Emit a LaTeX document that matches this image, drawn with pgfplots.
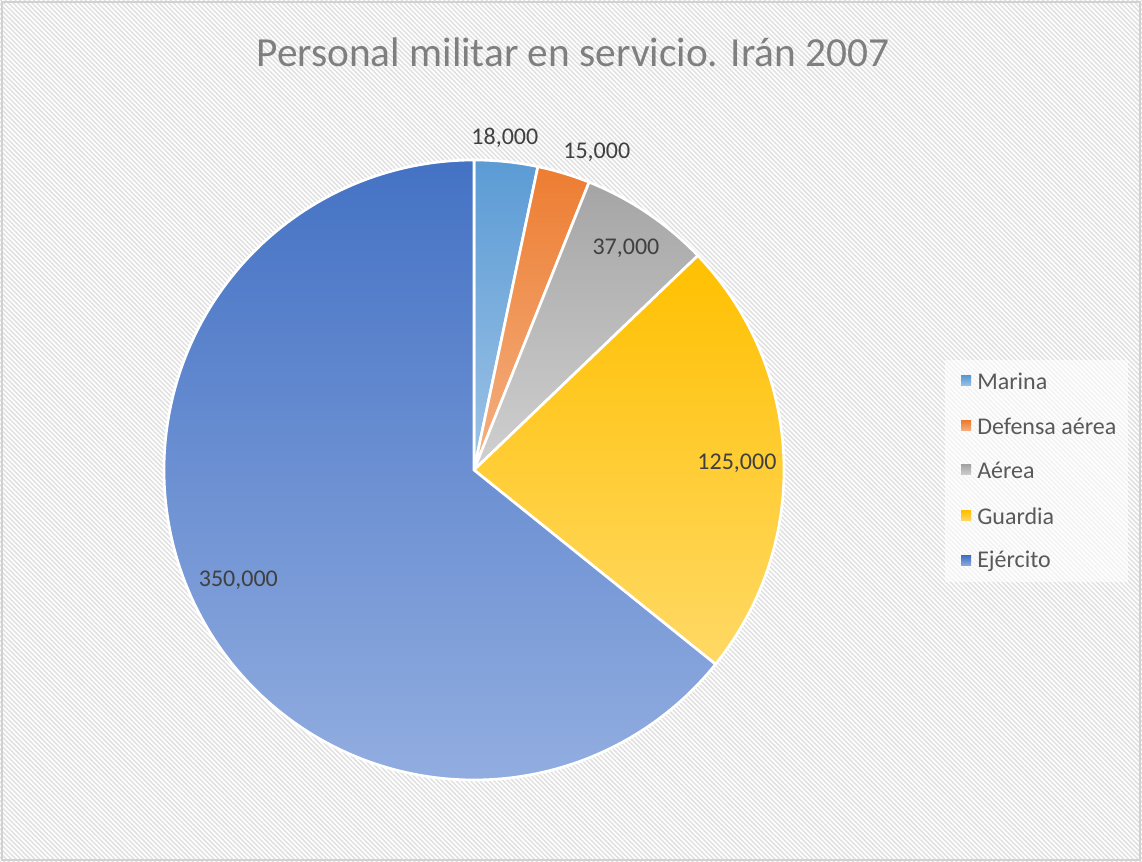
\documentclass[border=0pt]{standalone}
\usepackage{fontspec}
\setmainfont{Carlito}
\usepackage{pgfplots}
\usepackage{pgfplotstable}
\pgfplotsset{compat=1.18}
\usepgfplotslibrary{polar}
\usetikzlibrary{patterns.meta}

\definecolor{marinaT}{HTML}{5B9BD5}\definecolor{marinaB}{HTML}{9DC3E6}
\definecolor{defT}{HTML}{ED7D31}\definecolor{defB}{HTML}{F4B183}
\definecolor{aerT}{HTML}{A5A5A5}\definecolor{aerB}{HTML}{D0D0D0}
\definecolor{guaT}{HTML}{FFC000}\definecolor{guaB}{HTML}{FFD966}
\definecolor{ejeT}{HTML}{4472C4}\definecolor{ejeB}{HTML}{92ADE0}
\definecolor{titlegray}{HTML}{7F7F7F}
\definecolor{lblgray}{HTML}{404040}
\definecolor{leggray}{HTML}{595959}

\tikzset{lbl/.style={text=lblgray,font=\fontsize{18}{20}\selectfont}}

% personal militar en servicio, Iran 2007
\pgfplotstableread{
name value
Marina 18000
Defensa 15000
Aerea 37000
Guardia 125000
Ejercito 350000
}\datatable

\pgfplotstablegetelem{0}{value}\of\datatable\let\vA\pgfplotsretval
\pgfplotstablegetelem{1}{value}\of\datatable\let\vB\pgfplotsretval
\pgfplotstablegetelem{2}{value}\of\datatable\let\vC\pgfplotsretval
\pgfplotstablegetelem{3}{value}\of\datatable\let\vD\pgfplotsretval
\pgfplotstablegetelem{4}{value}\of\datatable\let\vE\pgfplotsretval

\pgfkeys{/pgf/fpu=true,/pgf/fpu/output format=fixed}
\pgfmathsetmacro\tot{\vA+\vB+\vC+\vD+\vE}
\pgfmathsetmacro\aO{90}
\pgfmathsetmacro\aA{\aO-360*\vA/\tot}
\pgfmathsetmacro\aB{\aA-360*\vB/\tot}
\pgfmathsetmacro\aC{\aB-360*\vC/\tot}
\pgfmathsetmacro\aD{\aC-360*\vD/\tot}
\pgfmathsetmacro\aE{\aD-360*\vE/\tot}
\pgfkeys{/pgf/fpu=false}

\begin{document}
\begin{tikzpicture}[x=0.75pt,y=0.75pt]
\useasboundingbox (0,0) rectangle (1142,862);
\fill[white] (0,0) rectangle (1142,862);
\fill[pattern={Lines[angle=-45,distance=2.5pt,line width=1.1pt]},pattern color=black!12] (0,0) rectangle (1142,862);
\draw[black!18,line width=1.5pt] (2,2) rectangle (1140,860);

\node[text=titlegray,font=\fontsize{31}{36}\selectfont] at (573,810) {Personal militar en servicio. Irán 2007};

\begin{polaraxis}[
  at={(474,392)}, anchor=center,
  scale only axis, width=465pt, height=465pt,
  hide axis, clip=false,
  ymin=0, ymax=310,
]
\addplot[draw=white,line width=2pt,top color=marinaT,bottom color=marinaB,domain=\aA:\aO,samples=30] {310} -- (axis cs:0,0) -- cycle;
\addplot[draw=white,line width=2pt,top color=defT,bottom color=defB,domain=\aB:\aA,samples=30] {310} -- (axis cs:0,0) -- cycle;
\addplot[draw=white,line width=2pt,top color=aerT,bottom color=aerB,domain=\aC:\aB,samples=40] {310} -- (axis cs:0,0) -- cycle;
\addplot[draw=white,line width=2pt,top color=guaT,bottom color=guaB,domain=\aD:\aC,samples=80] {310} -- (axis cs:0,0) -- cycle;
\addplot[draw=white,line width=2pt,top color=ejeT,bottom color=ejeB,domain=\aE:\aD,samples=200] {310} -- (axis cs:0,0) -- cycle;

\node[lbl] at (axis cs:84.7,334) {18,000};
\node[lbl] at (axis cs:68.9,341) {15,000};
\node[lbl] at (axis cs:55.6,269) {37,000};
\node[lbl] at (axis cs:1.5,263) {125,000};
\node[lbl] at (axis cs:205,260) {350,000};
\end{polaraxis}

% legend
\fill[white,opacity=0.6] (945,280) rectangle (1128,502);
\foreach \yy/\ct/\cb/\txt in {481/marinaT/marinaB/Marina, 436/defT/defB/Defensa aérea, 392/aerT/aerB/Aérea, 346/guaT/guaB/Guardia, 301/ejeT/ejeB/Ejército}{
  \shade[top color=\ct,bottom color=\cb] (961,\yy-5) rectangle (971,\yy+5);
  \node[anchor=west,inner sep=0pt,text=leggray,font=\fontsize{18}{20}\selectfont] at (977,\yy) {\txt};
}
\end{tikzpicture}
\end{document}
